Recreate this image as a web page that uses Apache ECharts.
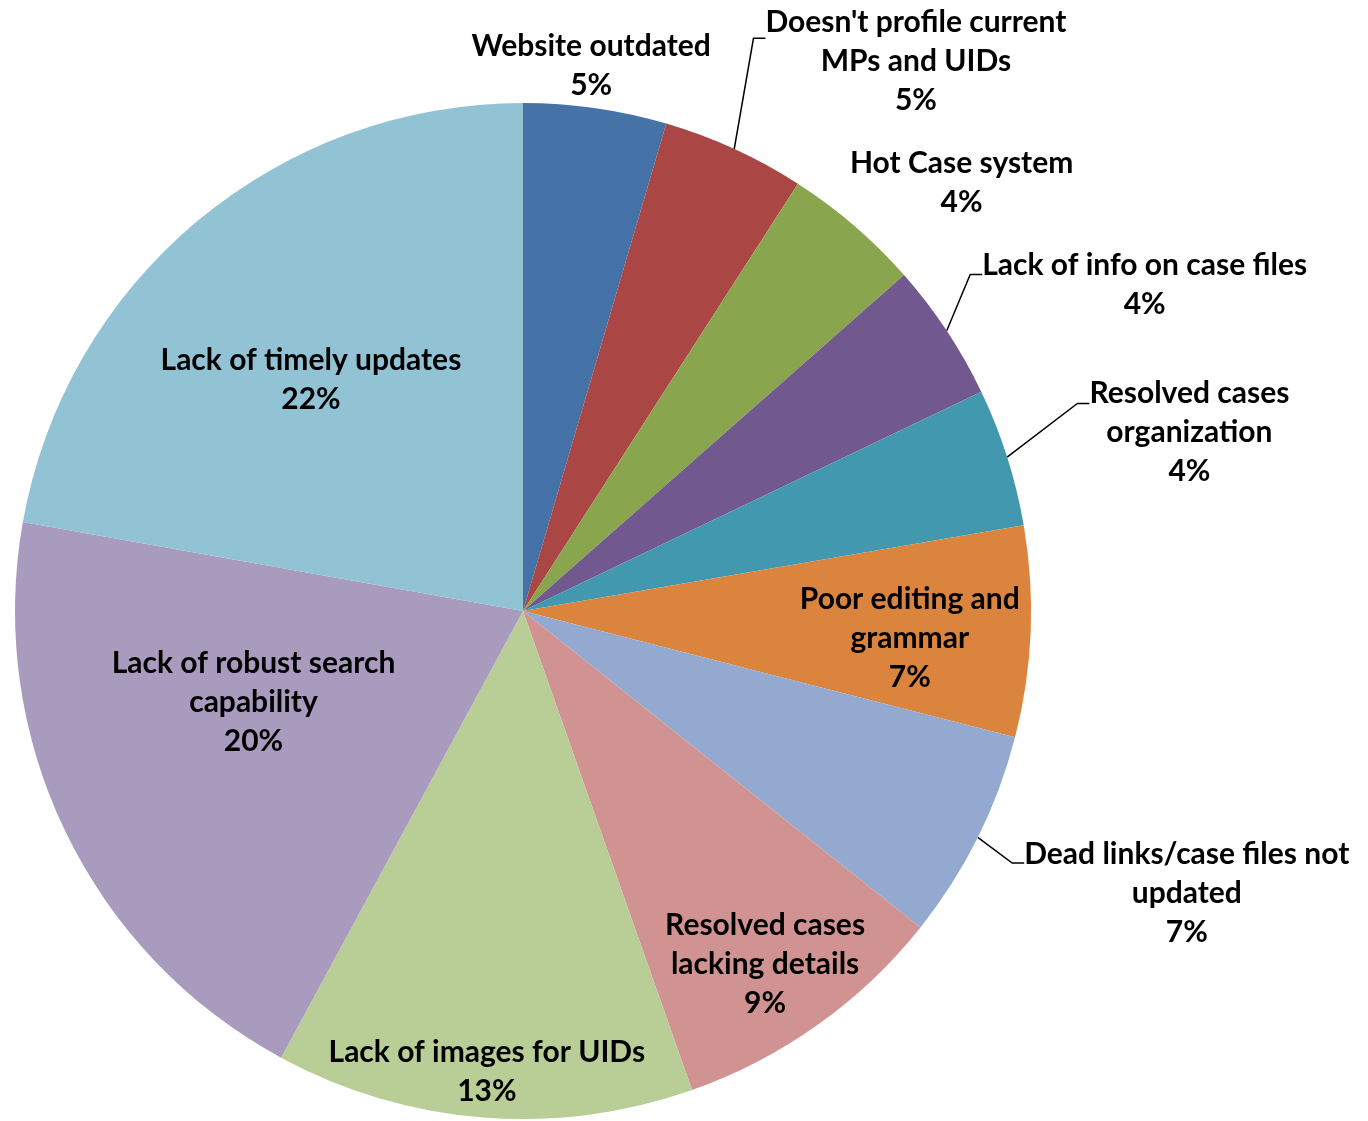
<!DOCTYPE html>
<html>
<head>
<meta charset="utf-8">
<title>Website issues</title>
<script src="https://cdn.jsdelivr.net/npm/echarts@6/dist/echarts.min.js"></script>
<style>
  html, body { margin: 0; padding: 0; background: #ffffff; }
  #chart { width: 1368px; height: 1121px; }
</style>
</head>
<body>
<div id="chart"></div>
<script>
// categories, clockwise from 12 o'clock
const names = [
  'Website outdated',
  'Doesn\'t profile current\nMPs and UIDs',
  'Hot Case system',
  'Lack of info on case files',
  'Resolved cases\norganization',
  'Poor editing and\ngrammar',
  'Dead links/case files not\nupdated',
  'Resolved cases\nlacking details',
  'Lack of images for UIDs',
  'Lack of robust search\ncapability',
  'Lack of timely updates'
]
// share of responses (%)
const values = [4.55, 4.55, 4.4, 4.4, 4.4, 6.7, 6.7, 8.9, 13.3, 19.9, 22.2]

// slice colours
const colors = ['#4572A7', '#AA4643', '#89A54E', '#71588F', '#4198AF', '#DB843D',
  '#93A9CF', '#D19392', '#B9CD96', '#A99BBD', '#92C3D4']

// label placement: inside / outside, leader line on/off, shift of label centre
const labelPos = ['outside', 'outside', 'outside', 'outside', 'outside', 'inside',
  'outside', 'inside', 'inside', 'inside', 'inside']
const showLine = [false, true, false, true, true, false, true, false, false, false, false]
// empty strip above the text so the leader line meets the label near its first line
const topGap = [0, 46, 0, 21, 58, 0, 60, 0, 0, 0, 0]
const labelShift = [
  [-143, -28], [8, -97], [-31, -32], [6, -48], [51, -49], [130, 17],
  [16, 19], [93, 144], [-16, 205], [-38, -20], [-47, -34]
]

const chart = echarts.init(document.getElementById('chart'))

const data = names.map((n, i) => ({
  name: n,
  value: values[i],
  itemStyle: { color: colors[i] },
  label: {
    position: labelPos[i],
    rich: { g: { fontSize: 1, lineHeight: topGap[i] } }
  },
  labelLine: { show: showLine[i] }
}))

chart.setOption({
  animation: false,
  series: [{
    type: 'pie',
    center: [523, 611],
    radius: 508,
    startAngle: 90,
    clockwise: true,
    avoidLabelOverlap: false,
    itemStyle: { borderWidth: 0 },
    label: {
      show: true,
      color: '#000000',
      fontFamily: 'Lato',
      fontWeight: 'bold',
      fontSize: 30,
      lineHeight: 39,
      formatter: p => {
        const txt = p.name + '\n' + Math.round(p.percent) + '%'
        return topGap[p.dataIndex] ? '{g| }\n' + txt : txt
      }
    },
    labelLine: {
      length: 15,
      length2: 12,
      lineStyle: { color: '#000000', width: 1.5 }
    },
    labelLayout: function (params) {
      const o = labelShift[params.dataIndex]
      const r = params.labelRect
      return {
        x: r.x + r.width / 2 + o[0],
        y: r.y + r.height / 2 + o[1],
        align: 'center',
        verticalAlign: 'middle'
      }
    },
    emphasis: { disabled: true },
    data: data
  }]
})
</script>
</body>
</html>
